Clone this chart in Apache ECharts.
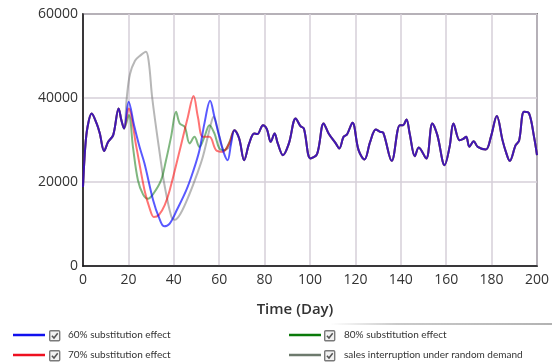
<!DOCTYPE html>
<html>
<head>
<meta charset="utf-8">
<script src="https://cdn.jsdelivr.net/npm/echarts@6/dist/echarts.min.js"></script>
<style>
  html, body { margin: 0; padding: 0; background: #fff; }
  #chart { width: 552px; height: 363px; }
</style>
</head>
<body>
<div id="chart"></div>
<script>
const SERIES_NAMES = [
  "60% substitution effect",
  "70% substitution effect",
  "80% substitution effect",
  "sales interruption under random demand",
];

// shared run-in before the disruption (day, value)
const BASE_HEAD = [
  [0, 18800], [1, 28400], [2, 33100], [3.8, 36330], [6, 33950], [7.4, 31560],
  [9.3, 27400], [11.1, 29560], [13.3, 31150], [15.7, 37520], [16.9, 34730], [18.1, 32750],
];

// shared behaviour once all scenarios have recovered
const BASE_TAIL = [
  [66.7, 32350], [68.8, 30370], [71, 25200], [73.2, 29180], [75.4, 31560], [76.8, 31400],
  [79.3, 33540], [81, 32600], [82.7, 29560], [84.4, 31560], [85.8, 29180], [88.1, 26390],
  [90.7, 29180], [93.7, 35140], [95.8, 33300], [97.3, 32750], [100.2, 25600], [103.1, 26630],
  [106, 33950], [108.2, 31560], [111.2, 29330], [112.9, 27990], [114.8, 30750], [116.3, 31330],
  [118.7, 34090], [121.4, 27580], [124, 25370], [126.5, 29560], [129, 32510], [130.9, 31950],
  [132.3, 31710], [136, 25030], [139.6, 33540], [141, 33540], [142.5, 34900], [143.9, 31560],
  [146.2, 26150], [147.9, 28230], [151.2, 25600], [153.9, 33950], [156.1, 31160], [159.3, 24010],
  [161.5, 28370], [163.2, 33950], [165.9, 29970], [167.3, 30200], [168.8, 30750], [170.2, 28370],
  [172.1, 29730], [173.9, 28370], [177.5, 27750], [179.7, 30750], [182.3, 35690], [184.8, 29970],
  [186.3, 27180], [188, 25030], [190.6, 28780], [192.1, 29800], [194.3, 36710], [196.5, 36330],
  [198.7, 30750], [200, 26390],
];

const MID_60 = [
  [20.1, 39100], [22.5, 33500], [24.9, 28370], [27.1, 24400], [30.9, 15660], [33.5, 11500],
  [35.7, 9460], [38.2, 10100], [41.5, 13500], [45.5, 18050], [48.5, 22500], [51.3, 27580],
  [53.5, 33950], [56, 39340], [57.9, 35520], [60.1, 30750], [62, 27000], [63.7, 25200], [65.2, 29000],
];

const MID_70 = [
  [20.1, 37520], [23.5, 28370], [27.1, 18050], [29.5, 13500], [31.2, 11680], [33.5, 12200],
  [36, 14500], [38.2, 18050], [42.6, 27500], [46.2, 35500], [48.7, 40460], [50.6, 35520],
  [52.8, 30750], [55.7, 30750], [58.6, 27580], [61.5, 27180], [64.4, 29180],
];

const MID_80 = [
  [20.2, 35930], [22, 28370], [24.2, 20430], [26.5, 17000], [28.6, 16000], [31, 17200],
  [34.4, 20430], [36.5, 25000], [38.8, 30750], [41, 36710], [42.6, 33950], [44.8, 33140],
  [47, 29180], [49.1, 30750], [51.3, 28370], [53.5, 30750], [55.7, 33540], [57.9, 31560],
  [60.1, 27990], [62.3, 27580], [64.5, 29500],
];

const MID_RANDOM = [
  [19.3, 40150], [20.7, 45700], [22.9, 48870], [25, 50000], [27.7, 51020], [29, 48500],
  [30.5, 40000], [33.8, 26800], [36, 19000], [38.9, 11800], [40.4, 11000], [43, 12500],
  [47, 17260], [50, 21500], [52.8, 25990], [56.4, 33950], [57.5, 35520], [60.1, 30750],
  [62.3, 27580], [64.4, 28370],
];

const X_TICKS = { min: 0, max: 200, interval: 20 };
const Y_TICKS = { min: 0, max: 60000, interval: 20000 };

const COLORS = ["#1010ee", "#ee1020", "#0a7a0a", "#6d7a6d"];
const LINE_COLORS = ["#0000ff", "#ff0000", "#007000", "#707070"];
const LINE_OPACITY = [0.65, 0.55, 0.5, 0.5];

const mids = [MID_60, MID_70, MID_80, MID_RANDOM];
const full = mids.map((m) => [...BASE_HEAD, ...m, ...BASE_TAIL]);

// draw order: grey underneath, blue on top
const drawOrder = [3, 2, 1, 0];

const chart = echarts.init(document.getElementById("chart"), null, { renderer: "canvas" });

const checkbox = (x, y) => ({
  type: "group",
  left: x,
  top: y,
  children: [
    { type: "rect", shape: { x: 0, y: 0, width: 10, height: 10, r: 1 },
      style: { fill: "#f2f2f2", stroke: "#7a7a7a", lineWidth: 1.4 } },
    { type: "polyline", shape: { points: [[2.2, 5], [4.3, 7.3], [8, 2.6]] },
      style: { fill: null, stroke: "#555", lineWidth: 1.5 } },
  ],
});

const legendBase = {
  orient: "vertical",
  icon: "rect",
  itemWidth: 32,
  itemHeight: 2.5,
  itemGap: 6,
  height: 60,
  padding: 0,
  selectedMode: false,
  textStyle: {
    fontFamily: "Lato",
    fontSize: 10,
    color: "#333",
    padding: [0, 0, 0, 18],
    lineHeight: 14,
  },
};

chart.setOption({
  animation: false,
  textStyle: { fontFamily: "Open Sans" },
  grid: {
    left: 83, right: 12, top: 14, bottom: 97,
    show: true, borderColor: "#222", borderWidth: 1.5,
  },
  legend: [
    { ...legendBase, left: 13, top: 328,
      data: [0, 1].map((i) => ({ name: SERIES_NAMES[i], itemStyle: { color: COLORS[i] } })) },
    { ...legendBase, left: 289, top: 328,
      data: [2, 3].map((i) => ({ name: SERIES_NAMES[i], itemStyle: { color: COLORS[i] } })) },
  ],
  graphic: [
    checkbox(49, 330), checkbox(49, 350), checkbox(324, 330), checkbox(324, 350),
    {
      type: "rect", left: 330, top: 323, shape: { width: 222, height: 2 },
      style: {
        fill: new echarts.graphic.LinearGradient(0, 0, 1, 0, [
          { offset: 0, color: "rgba(180,180,180,0)" },
          { offset: 0.3, color: "rgba(180,180,180,0.7)" },
          { offset: 1, color: "rgba(170,170,170,0.9)" },
        ]),
      },
    },
  ],
  xAxis: {
    type: "value",
    ...X_TICKS,
    name: "Time (Day)",
    nameLocation: "middle",
    nameGap: 36,
    nameTextStyle: { fontSize: 15, fontWeight: 600, color: "#333", padding: [0, 30, 0, 0] },
    axisLine: { show: true, lineStyle: { color: "#111", width: 1.5 } },
    axisTick: { show: false },
    axisLabel: { fontSize: 14, color: "#333", margin: 7 },
    splitLine: { show: true, lineStyle: { color: "#d6cfd8", width: 1.5 } },
  },
  yAxis: {
    type: "value",
    ...Y_TICKS,
    axisLine: { show: true, lineStyle: { color: "#111", width: 1.5 } },
    axisTick: { show: false },
    axisLabel: { fontSize: 14, color: "#333", margin: 5, formatter: (v) => String(v) },
    splitLine: { show: true, lineStyle: { color: "#d6cfd8", width: 1.5 } },
  },
  series: drawOrder.map((i) => ({
    name: SERIES_NAMES[i],
    type: "line",
    data: full[i],
    smooth: 0.35,
    showSymbol: false,
    color: COLORS[i],
    lineStyle: { color: LINE_COLORS[i], width: 2, opacity: LINE_OPACITY[i] },
    z: 2 + (3 - i),
  })),
});
</script>
</body>
</html>
